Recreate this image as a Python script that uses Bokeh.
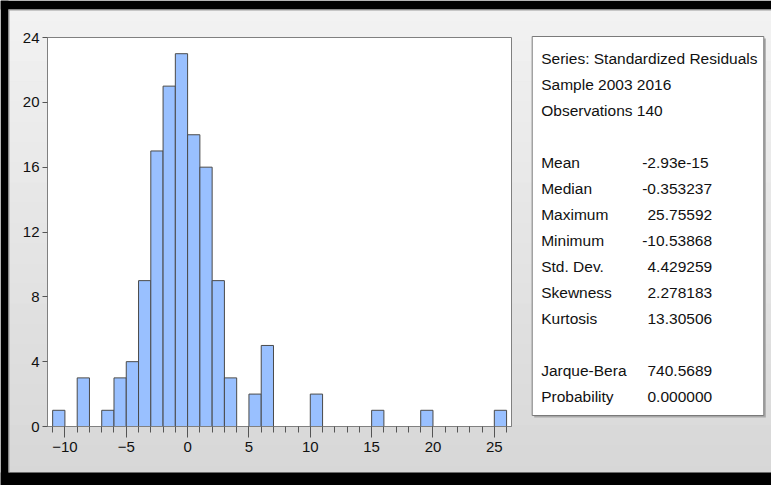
from bokeh.plotting import figure
from bokeh.models import (Range1d, FixedTicker, ColumnDataSource, LinearAxis)
from bokeh.core.properties import value
from bokeh.embed import file_html
from bokeh.resources import INLINE

# ---- data ----
bin_left = list(range(-11, 26))          # bins of width 1, from -11 up to 26
bin_width = 1
counts = [1, 0, 3, 0, 1, 3, 4, 9, 17, 21, 23, 18, 16, 9, 3, 0, 2, 5,
          0, 0, 0, 2, 0, 0, 0, 0, 1, 0, 0, 0, 1, 0, 0, 0, 0, 0, 1]
x_ticks = [-10, -5, 0, 5, 10, 15, 20, 25]
x_minor = list(range(-11, 27))
y_ticks = [0, 4, 8, 12, 16, 20, 24]
header_lines = ["Series: Standardized Residuals", "Sample 2003 2016", "Observations 140"]
stat_names = ["Mean", "Median", "Maximum", "Minimum", "Std. Dev.", "Skewness", "Kurtosis"]
stat_values = ["-2.93e-15", "-0.353237", "25.75592", "-10.53868", "4.429259", "2.278183", "13.30506"]
test_names = ["Jarque-Bera", "Probability"]
test_values = ["740.5689", "0.000000"]

FONT = "Liberation Sans"
W, H = 771, 485
FL, FT, FR, FB = 47, 37, 511, 426          # histogram plot box in page pixels
X0, X1 = -11.42, 26.40                     # histogram x extent
Y0, Y1 = 0, 24                             # histogram y extent

# page-pixel ranges cover the whole canvas; the histogram ranges are extended to match
sx = (FR - FL) / (X1 - X0)
sy = (FB - FT) / (Y1 - Y0)
hx = Range1d(X0 - FL / sx, X1 + (W - FR) / sx)
hy = Range1d(Y0 - (H - FB) / sy, Y1 + FT / sy)

p = figure(width=W, height=H, x_range=Range1d(0, W), y_range=Range1d(H, 0),
           output_backend="svg", toolbar_location=None,
           min_border=0, min_border_left=0, min_border_right=0,
           min_border_top=0, min_border_bottom=0,
           x_axis_location=None, y_axis_location=None,
           background_fill_color="#e6e6e6", border_fill_color="#e6e6e6",
           outline_line_color=None)
p.grid.visible = False
p.extra_x_ranges = {"hx": hx}
p.extra_y_ranges = {"hy": hy}

# gradient page background
n_strips = 24
top_c, bot_c = (242, 242, 242), (215, 215, 215)
g_top, g_bot, g_col = [], [], []
for k in range(n_strips):
    f = k / (n_strips - 1)
    c = tuple(int(round(top_c[i] + (bot_c[i] - top_c[i]) * f)) for i in range(3))
    g_top.append(H * k / n_strips)
    g_bot.append(H * (k + 1) / n_strips + 0.5)
    g_col.append("#%02x%02x%02x" % c)
p.quad(left=0, right=W, top=g_top, bottom=g_bot, fill_color=g_col, line_color=None)

# white plot area
p.quad(left=[FL], right=[FR], top=[FT], bottom=[FB], fill_color="white", line_color=None)

# ---- histogram ----
src = ColumnDataSource(dict(
    left=[l for l, c in zip(bin_left, counts) if c > 0],
    right=[l + bin_width for l, c in zip(bin_left, counts) if c > 0],
    top=[c for c in counts if c > 0],
))
p.quad(left="left", right="right", bottom=0, top="top", source=src,
       x_range_name="hx", y_range_name="hy",
       fill_color="#99c0ff", line_color="#4a4a4a", line_width=1)

# plot box outline
p.quad(left=[FL], right=[FR], top=[FT], bottom=[FB], fill_color=None,
       line_color="#808080", line_width=1)

xa = LinearAxis(x_range_name="hx", y_range_name="hy", fixed_location=Y0, bounds=(X0, X1),
                ticker=FixedTicker(ticks=x_ticks, minor_ticks=x_minor))
xa.major_tick_out = 11
xa.major_tick_in = 0
xa.minor_tick_out = 6
xa.minor_tick_in = 0
xa.axis_line_color = "#808080"
xa.major_tick_line_color = "#555555"
xa.minor_tick_line_color = "#555555"
xa.major_label_text_font = FONT
xa.major_label_text_font_size = "15px"
xa.major_label_text_color = "#111111"
xa.major_label_standoff = 4
p.add_layout(xa, "below")

ya = LinearAxis(x_range_name="hx", y_range_name="hy", fixed_location=X0, bounds=(Y0, Y1),
                ticker=FixedTicker(ticks=y_ticks, minor_ticks=[]))
ya.major_tick_out = 5
ya.major_tick_in = 0
ya.minor_tick_line_color = None
ya.axis_line_color = "#808080"
ya.major_tick_line_color = "#555555"
ya.major_label_text_font = FONT
ya.major_label_text_font_size = "15px"
ya.major_label_text_color = "#111111"
ya.major_label_standoff = 3
p.add_layout(ya, "left")

# ---- statistics panel ----
box_l, box_r, box_t, box_b = 531.7, 763.3, 36, 415
p.quad(left=[box_l + 2], right=[box_r + 2], top=[box_t + 2], bottom=[box_b + 2],
       fill_color="#a8a8a8", line_color=None)
p.quad(left=[box_l], right=[box_r], top=[box_t], bottom=[box_b],
       fill_color="white", line_color="#7a7a7a", line_width=1)

y0, dy = 58, 26
lab_x, neg_x, pos_x = 540.7, 641.7, 647

lines_txt, lines_x, lines_y = [], [], []
for i, t in enumerate(header_lines):
    lines_txt.append(t); lines_x.append(lab_x); lines_y.append(y0 + dy * i)
for j, (n, v) in enumerate(zip(stat_names, stat_values)):
    yy = y0 + dy * (4 + j)
    lines_txt.append(n); lines_x.append(lab_x); lines_y.append(yy)
    lines_txt.append(v); lines_x.append(neg_x if v.startswith("-") else pos_x); lines_y.append(yy)
for j, (n, v) in enumerate(zip(test_names, test_values)):
    yy = y0 + dy * (12 + j)
    lines_txt.append(n); lines_x.append(lab_x); lines_y.append(yy)
    lines_txt.append(v); lines_x.append(neg_x if v.startswith("-") else pos_x); lines_y.append(yy)

p.text(x=lines_x, y=lines_y, text=lines_txt, text_font=value(FONT),
       text_font_size="15.5px", text_baseline="middle", text_align="left",
       text_color="#111111")

# ---- black window frame (top, left, bottom) ----
p.quad(left=[0, 0, 0], right=[W, 8, W], top=[0, 0, 472], bottom=[9, H, H],
       fill_color="black", line_color=None)
p.quad(left=[8, 8], right=[W, 9], top=[9, 9], bottom=[10, 472],
       fill_color="#9a9a9a", line_color=None)

open("out.html", "w").write(file_html(p, INLINE))
